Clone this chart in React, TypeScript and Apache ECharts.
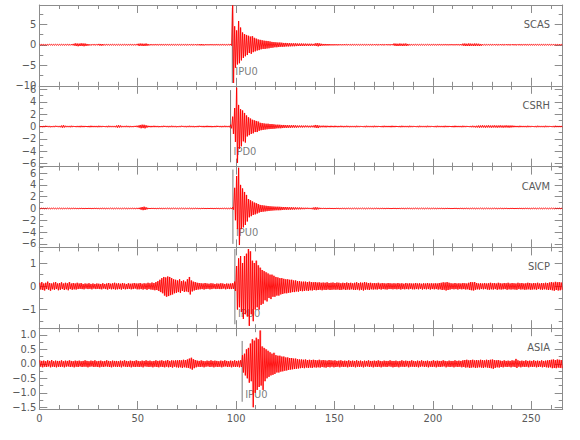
import React, { useEffect, useRef } from "react";
import * as echarts from "echarts";

// ---------------- data ----------------
const stations = ["SCAS", "CSRH", "CAVM", "SICP", "ASIA"];
const binSeconds = 1; // each envelope value covers one second
const xMajorTicks = [0, 50, 100, 150, 200, 250];
const xMinorTicks = [10, 20, 30, 40, 60, 70, 80, 90, 110, 120, 130, 140, 160, 170, 180, 190, 210, 220, 230, 240, 260];

const yMin = [-10, -6.5, -6.6, -1.8, -1.56];
const yMax = [9.7, 6.6, 7.1, 1.67, 1.23];
const yMajorTicks = [
  [-10, -5, 0, 5],
  [-6, -4, -2, 0, 2, 4, 6],
  [-6, -4, -2, 0, 2, 4, 6],
  [-1, 0, 1],
  [-1.5, -1, -0.5, 0, 0.5, 1],
];
const yMinorTicks = [
  [-7.5, -2.5, 2.5, 7.5],
  [-5, -3, -1, 1, 3, 5],
  [-5, -3, -1, 1, 3, 5, 7],
  [-1.5, -0.5, 0.5, 1.5],
  [-1.25, -0.75, -0.25, 0.25, 0.75],
];
const yLabelDecimals = [0, 0, 0, 0, 1];

const pickTimes = [98.1, 97.2, 98.4, 99.4, 103.1];
const pickTop = [9.0, 5.9, 6.6, 1.6, 0.79];
const pickBottom = [-9.3, -5.8, -6.0, -1.63, -1.31];
const pickNames = ["IPU0", "IPD0", "IPU0", "IPU0", "IPU0"];
const pickLabelY = [-6.6, -4.0, -4.1, -1.16, -1.07];

// envelope (max / min per 1 s bin)
const scasHi = [
  0.1,0.12,0.1,0.08,0.1,0.12,0.1,0.1,0.12,0.1,
  0.1,0.12,0.1,0.1,0.12,0.1,0.12,0.22,0.35,0.3,
  0.28,0.36,0.32,0.3,0.2,0.15,0.1,0.12,0.1,0.12,
  0.22,0.2,0.18,0.1,0.12,0.1,0.1,0.12,0.1,0.1,
  0.12,0.1,0.1,0.12,0.1,0.1,0.12,0.1,0.1,0.12,
  0.25,0.3,0.28,0.25,0.3,0.2,0.12,0.1,0.1,0.12,
  0.1,0.12,0.1,0.1,0.12,0.1,0.1,0.12,0.1,0.1,
  0.12,0.1,0.1,0.12,0.1,0.1,0.12,0.1,0.1,0.12,
  0.1,0.15,0.18,0.15,0.12,0.1,0.1,0.12,0.1,0.1,
  0.12,0.1,0.1,0.12,0.1,0.1,0.12,0.2,9.6,4.5,
  3.5,5.8,4.2,3.0,2.6,2.4,2.2,2.0,2.1,1.7,
  1.5,1.3,1.2,1.1,1.0,0.95,0.9,0.8,0.7,0.65,
  0.6,0.55,0.55,0.5,0.45,0.45,0.4,0.4,0.35,0.35,
  0.35,0.3,0.3,0.3,0.28,0.28,0.25,0.25,0.25,0.22,
  0.35,0.4,0.35,0.25,0.2,0.2,0.18,0.18,0.15,0.15,
  0.15,0.14,0.14,0.12,0.12,0.14,0.12,0.12,0.1,0.12,
  0.1,0.12,0.1,0.1,0.12,0.1,0.1,0.12,0.1,0.1,
  0.12,0.1,0.1,0.12,0.1,0.1,0.12,0.1,0.1,0.15,
  0.3,0.28,0.25,0.3,0.25,0.28,0.3,0.2,0.12,0.1,
  0.1,0.12,0.1,0.1,0.12,0.1,0.1,0.12,0.1,0.1,
  0.12,0.1,0.1,0.12,0.1,0.1,0.12,0.1,0.1,0.12,
  0.1,0.1,0.12,0.1,0.15,0.28,0.3,0.25,0.32,0.28,
  0.25,0.3,0.28,0.25,0.2,0.12,0.1,0.1,0.12,0.1,
  0.1,0.12,0.1,0.1,0.12,0.1,0.1,0.12,0.1,0.1,
  0.12,0.1,0.1,0.12,0.1,0.1,0.12,0.1,0.1,0.12,
  0.1,0.1,0.12,0.1,0.1,0.12,0.1,0.1,0.12,0.1,
  0.1,0.12,0.1,0.1,0.12,0.1,
];
const scasLo = [
  -0.1,-0.1,-0.12,-0.1,-0.1,-0.08,-0.12,-0.1,-0.1,-0.12,
  -0.1,-0.1,-0.12,-0.1,-0.1,-0.12,-0.1,-0.2,-0.3,-0.35,
  -0.3,-0.3,-0.35,-0.28,-0.22,-0.15,-0.12,-0.1,-0.12,-0.1,
  -0.2,-0.22,-0.15,-0.12,-0.1,-0.12,-0.1,-0.1,-0.12,-0.1,
  -0.1,-0.12,-0.1,-0.1,-0.12,-0.1,-0.1,-0.12,-0.1,-0.1,
  -0.28,-0.25,-0.3,-0.28,-0.25,-0.18,-0.1,-0.12,-0.1,-0.1,
  -0.12,-0.1,-0.1,-0.12,-0.1,-0.1,-0.12,-0.1,-0.1,-0.12,
  -0.1,-0.1,-0.12,-0.1,-0.1,-0.12,-0.1,-0.1,-0.12,-0.1,
  -0.12,-0.15,-0.15,-0.18,-0.1,-0.12,-0.1,-0.1,-0.12,-0.1,
  -0.1,-0.12,-0.1,-0.1,-0.12,-0.1,-0.1,-0.2,-9.3,-5.6,
  -4.8,-4.5,-3.8,-3.2,-2.8,-2.5,-2.0,-2.2,-1.8,-1.6,
  -1.4,-1.3,-1.1,-1.0,-1.0,-0.9,-0.85,-0.75,-0.7,-0.6,
  -0.6,-0.55,-0.5,-0.5,-0.45,-0.4,-0.4,-0.38,-0.35,-0.35,
  -0.32,-0.3,-0.3,-0.28,-0.28,-0.25,-0.25,-0.25,-0.22,-0.22,
  -0.3,-0.38,-0.3,-0.22,-0.2,-0.18,-0.18,-0.15,-0.15,-0.15,
  -0.14,-0.15,-0.12,-0.14,-0.12,-0.12,-0.1,-0.12,-0.12,-0.1,
  -0.12,-0.1,-0.1,-0.12,-0.1,-0.1,-0.12,-0.1,-0.1,-0.12,
  -0.1,-0.1,-0.12,-0.1,-0.1,-0.12,-0.1,-0.1,-0.12,-0.12,
  -0.25,-0.3,-0.28,-0.25,-0.3,-0.25,-0.28,-0.18,-0.1,-0.12,
  -0.1,-0.1,-0.12,-0.1,-0.1,-0.12,-0.1,-0.1,-0.12,-0.1,
  -0.1,-0.12,-0.1,-0.1,-0.12,-0.1,-0.1,-0.12,-0.1,-0.1,
  -0.12,-0.1,-0.1,-0.12,-0.15,-0.25,-0.3,-0.28,-0.3,-0.25,
  -0.3,-0.28,-0.25,-0.3,-0.22,-0.12,-0.1,-0.12,-0.1,-0.1,
  -0.12,-0.1,-0.1,-0.12,-0.1,-0.1,-0.12,-0.1,-0.1,-0.12,
  -0.1,-0.1,-0.12,-0.1,-0.1,-0.12,-0.1,-0.1,-0.12,-0.1,
  -0.1,-0.12,-0.1,-0.1,-0.12,-0.1,-0.1,-0.12,-0.1,-0.1,
  -0.12,-0.1,-0.1,-0.12,-0.1,-0.1,
];
const csrhHi = [
  0.1,0.08,0.1,0.12,0.1,0.1,0.08,0.1,0.12,0.1,
  0.1,0.15,0.2,0.12,0.1,0.1,0.12,0.1,0.08,0.1,
  0.1,0.12,0.1,0.1,0.08,0.1,0.12,0.1,0.1,0.1,
  0.12,0.1,0.1,0.08,0.1,0.12,0.1,0.1,0.1,0.15,
  0.2,0.15,0.1,0.1,0.12,0.1,0.1,0.08,0.1,0.12,
  0.15,0.25,0.3,0.28,0.2,0.12,0.1,0.1,0.12,0.1,
  0.1,0.08,0.1,0.12,0.1,0.1,0.1,0.12,0.1,0.1,
  0.08,0.1,0.12,0.1,0.1,0.1,0.12,0.1,0.1,0.08,
  0.1,0.12,0.1,0.1,0.1,0.12,0.1,0.1,0.08,0.1,
  0.12,0.1,0.1,0.1,0.12,0.1,0.1,0.3,1.6,3.0,
  6.3,3.5,2.8,2.6,2.2,1.8,1.5,1.3,1.1,1.0,
  0.9,0.8,0.6,0.55,0.5,0.45,0.45,0.4,0.4,0.35,
  0.3,0.3,0.28,0.25,0.25,0.22,0.22,0.2,0.2,0.2,
  0.18,0.15,0.15,0.15,0.14,0.15,0.14,0.12,0.14,0.15,
  0.25,0.22,0.15,0.12,0.14,0.12,0.12,0.1,0.12,0.1,
  0.12,0.1,0.1,0.12,0.1,0.1,0.12,0.1,0.1,0.1,
  0.1,0.12,0.1,0.1,0.08,0.1,0.12,0.1,0.1,0.1,
  0.12,0.1,0.1,0.08,0.1,0.12,0.1,0.1,0.1,0.12,
  0.1,0.1,0.08,0.1,0.12,0.1,0.1,0.1,0.12,0.1,
  0.1,0.08,0.1,0.12,0.1,0.1,0.1,0.12,0.1,0.1,
  0.08,0.1,0.12,0.1,0.1,0.1,0.12,0.1,0.1,0.08,
  0.1,0.12,0.1,0.1,0.1,0.12,0.1,0.1,0.08,0.1,
  0.12,0.1,0.12,0.15,0.15,0.18,0.15,0.15,0.18,0.15,
  0.15,0.18,0.15,0.15,0.18,0.15,0.15,0.18,0.15,0.15,
  0.15,0.12,0.1,0.1,0.12,0.1,0.1,0.1,0.12,0.1,
  0.1,0.08,0.1,0.12,0.1,0.1,0.1,0.12,0.1,0.1,
  0.08,0.1,0.12,0.1,0.1,0.1,
];
const csrhLo = [
  -0.1,-0.12,-0.1,-0.08,-0.1,-0.12,-0.1,-0.1,-0.08,-0.1,
  -0.12,-0.18,-0.15,-0.1,-0.1,-0.12,-0.1,-0.08,-0.1,-0.1,
  -0.12,-0.1,-0.1,-0.08,-0.1,-0.12,-0.1,-0.1,-0.1,-0.12,
  -0.1,-0.1,-0.08,-0.1,-0.12,-0.1,-0.1,-0.1,-0.12,-0.18,
  -0.15,-0.12,-0.1,-0.1,-0.1,-0.12,-0.1,-0.1,-0.08,-0.1,
  -0.18,-0.28,-0.25,-0.3,-0.18,-0.1,-0.12,-0.1,-0.1,-0.1,
  -0.12,-0.1,-0.1,-0.08,-0.1,-0.12,-0.1,-0.1,-0.1,-0.12,
  -0.1,-0.1,-0.08,-0.1,-0.12,-0.1,-0.1,-0.1,-0.12,-0.1,
  -0.1,-0.08,-0.1,-0.12,-0.1,-0.1,-0.1,-0.12,-0.1,-0.1,
  -0.08,-0.1,-0.12,-0.1,-0.1,-0.1,-0.12,-0.3,-1.2,-2.5,
  -5.9,-3.6,-3.2,-2.4,-2.6,-1.6,-1.4,-1.2,-1.1,-0.9,
  -0.9,-0.7,-0.6,-0.55,-0.5,-0.45,-0.42,-0.4,-0.38,-0.35,
  -0.3,-0.28,-0.28,-0.25,-0.22,-0.22,-0.2,-0.2,-0.18,-0.18,
  -0.18,-0.15,-0.14,-0.15,-0.14,-0.12,-0.14,-0.14,-0.12,-0.15,
  -0.22,-0.25,-0.14,-0.12,-0.12,-0.14,-0.1,-0.12,-0.1,-0.12,
  -0.1,-0.12,-0.1,-0.1,-0.12,-0.1,-0.1,-0.12,-0.1,-0.1,
  -0.12,-0.1,-0.1,-0.08,-0.1,-0.12,-0.1,-0.1,-0.1,-0.12,
  -0.1,-0.1,-0.08,-0.1,-0.12,-0.1,-0.1,-0.1,-0.12,-0.1,
  -0.1,-0.08,-0.1,-0.12,-0.1,-0.1,-0.1,-0.12,-0.1,-0.1,
  -0.08,-0.1,-0.12,-0.1,-0.1,-0.1,-0.12,-0.1,-0.1,-0.08,
  -0.1,-0.12,-0.1,-0.1,-0.1,-0.12,-0.1,-0.1,-0.08,-0.1,
  -0.12,-0.1,-0.1,-0.1,-0.12,-0.1,-0.1,-0.08,-0.1,-0.12,
  -0.12,-0.15,-0.15,-0.18,-0.15,-0.15,-0.18,-0.15,-0.15,-0.18,
  -0.15,-0.15,-0.18,-0.15,-0.15,-0.18,-0.15,-0.15,-0.18,-0.15,
  -0.12,-0.1,-0.1,-0.12,-0.1,-0.1,-0.1,-0.12,-0.1,-0.1,
  -0.08,-0.1,-0.12,-0.1,-0.1,-0.1,-0.12,-0.1,-0.1,-0.08,
  -0.1,-0.12,-0.1,-0.1,-0.1,-0.12,
];
const cavmHi = [
  0.06,0.08,0.06,0.05,0.08,0.06,0.06,0.08,0.05,0.06,
  0.08,0.06,0.06,0.05,0.08,0.06,0.06,0.08,0.06,0.05,
  0.06,0.08,0.06,0.06,0.05,0.08,0.06,0.06,0.08,0.06,
  0.05,0.06,0.08,0.06,0.06,0.05,0.08,0.06,0.06,0.08,
  0.06,0.05,0.06,0.08,0.06,0.06,0.05,0.08,0.06,0.06,
  0.1,0.15,0.25,0.3,0.2,0.1,0.06,0.08,0.06,0.05,
  0.06,0.08,0.06,0.06,0.05,0.08,0.06,0.06,0.08,0.06,
  0.05,0.06,0.08,0.06,0.06,0.05,0.08,0.06,0.06,0.08,
  0.06,0.05,0.06,0.08,0.06,0.06,0.05,0.08,0.06,0.06,
  0.08,0.06,0.05,0.06,0.08,0.06,0.06,0.1,0.2,3.5,
  5.5,6.9,4.0,3.4,2.8,2.3,1.6,1.4,1.2,1.0,
  0.9,0.75,0.6,0.55,0.5,0.45,0.42,0.38,0.35,0.32,
  0.3,0.3,0.28,0.26,0.25,0.24,0.22,0.2,0.2,0.18,
  0.18,0.15,0.15,0.14,0.12,0.12,0.12,0.1,0.1,0.15,
  0.2,0.18,0.12,0.1,0.08,0.08,0.06,0.08,0.06,0.06,
  0.06,0.08,0.06,0.05,0.08,0.06,0.06,0.08,0.05,0.06,
  0.08,0.06,0.06,0.05,0.08,0.06,0.06,0.08,0.06,0.05,
  0.06,0.08,0.06,0.05,0.08,0.06,0.06,0.08,0.05,0.06,
  0.08,0.06,0.06,0.05,0.08,0.06,0.06,0.08,0.06,0.05,
  0.06,0.08,0.06,0.05,0.08,0.06,0.06,0.08,0.05,0.06,
  0.08,0.06,0.06,0.05,0.08,0.06,0.06,0.08,0.06,0.05,
  0.06,0.08,0.06,0.05,0.08,0.06,0.06,0.08,0.05,0.06,
  0.08,0.06,0.06,0.05,0.08,0.06,0.06,0.08,0.06,0.05,
  0.06,0.08,0.06,0.05,0.08,0.06,0.06,0.08,0.05,0.06,
  0.08,0.06,0.06,0.05,0.08,0.06,0.06,0.08,0.06,0.05,
  0.06,0.08,0.06,0.05,0.08,0.06,0.06,0.08,0.05,0.06,
  0.08,0.06,0.06,0.05,0.08,0.06,
];
const cavmLo = [
  -0.06,-0.05,-0.08,-0.06,-0.06,-0.08,-0.05,-0.06,-0.08,-0.06,
  -0.06,-0.08,-0.05,-0.06,-0.06,-0.08,-0.06,-0.05,-0.06,-0.08,
  -0.06,-0.06,-0.08,-0.05,-0.06,-0.06,-0.08,-0.06,-0.05,-0.06,
  -0.08,-0.06,-0.06,-0.08,-0.05,-0.06,-0.06,-0.08,-0.06,-0.05,
  -0.06,-0.08,-0.06,-0.06,-0.08,-0.05,-0.06,-0.06,-0.08,-0.06,
  -0.1,-0.2,-0.28,-0.25,-0.15,-0.08,-0.06,-0.05,-0.06,-0.08,
  -0.06,-0.06,-0.08,-0.05,-0.06,-0.06,-0.08,-0.06,-0.05,-0.06,
  -0.08,-0.06,-0.06,-0.08,-0.05,-0.06,-0.06,-0.08,-0.06,-0.05,
  -0.06,-0.08,-0.06,-0.06,-0.08,-0.05,-0.06,-0.06,-0.08,-0.06,
  -0.06,-0.08,-0.05,-0.06,-0.06,-0.08,-0.06,-0.1,-0.2,-2.0,
  -3.5,-6.2,-3.5,-3.2,-2.8,-2.2,-1.5,-1.3,-1.1,-1.0,
  -0.85,-0.7,-0.6,-0.55,-0.5,-0.45,-0.42,-0.38,-0.35,-0.32,
  -0.3,-0.3,-0.28,-0.25,-0.22,-0.22,-0.2,-0.2,-0.18,-0.18,
  -0.15,-0.15,-0.14,-0.12,-0.12,-0.1,-0.1,-0.1,-0.12,-0.18,
  -0.2,-0.15,-0.1,-0.08,-0.06,-0.08,-0.06,-0.05,-0.06,-0.08,
  -0.06,-0.05,-0.08,-0.06,-0.06,-0.08,-0.05,-0.06,-0.08,-0.06,
  -0.06,-0.08,-0.05,-0.06,-0.06,-0.08,-0.06,-0.05,-0.06,-0.08,
  -0.06,-0.05,-0.08,-0.06,-0.06,-0.08,-0.05,-0.06,-0.08,-0.06,
  -0.06,-0.08,-0.05,-0.06,-0.06,-0.08,-0.06,-0.05,-0.06,-0.08,
  -0.06,-0.05,-0.08,-0.06,-0.06,-0.08,-0.05,-0.06,-0.08,-0.06,
  -0.06,-0.08,-0.05,-0.06,-0.06,-0.08,-0.06,-0.05,-0.06,-0.08,
  -0.06,-0.05,-0.08,-0.06,-0.06,-0.08,-0.05,-0.06,-0.08,-0.06,
  -0.06,-0.08,-0.05,-0.06,-0.06,-0.08,-0.06,-0.05,-0.06,-0.08,
  -0.06,-0.05,-0.08,-0.06,-0.06,-0.08,-0.05,-0.06,-0.08,-0.06,
  -0.06,-0.08,-0.05,-0.06,-0.06,-0.08,-0.06,-0.05,-0.06,-0.08,
  -0.06,-0.05,-0.08,-0.06,-0.06,-0.08,-0.05,-0.06,-0.08,-0.06,
  -0.06,-0.08,-0.05,-0.06,-0.06,-0.08,
];
const sicpHi = [
  0.15,0.18,0.12,0.15,0.2,0.14,0.12,0.16,0.18,0.12,
  0.14,0.17,0.12,0.15,0.13,0.18,0.12,0.14,0.12,0.15,
  0.12,0.14,0.1,0.12,0.11,0.13,0.1,0.12,0.1,0.12,
  0.11,0.1,0.13,0.1,0.12,0.14,0.11,0.13,0.15,0.12,
  0.13,0.11,0.14,0.12,0.1,0.13,0.11,0.12,0.14,0.12,
  0.12,0.14,0.11,0.13,0.12,0.15,0.13,0.16,0.14,0.18,
  0.22,0.28,0.35,0.4,0.38,0.42,0.4,0.35,0.3,0.28,
  0.25,0.3,0.22,0.25,0.2,0.3,0.4,0.25,0.2,0.18,
  0.15,0.14,0.13,0.12,0.14,0.12,0.11,0.13,0.12,0.1,
  0.12,0.11,0.13,0.12,0.1,0.12,0.11,0.12,0.13,0.2,
  0.87,1.2,1.3,1.0,1.3,1.4,1.6,1.5,1.1,1.0,
  1.1,0.9,0.8,0.7,0.65,0.6,0.55,0.5,0.5,0.45,
  0.4,0.38,0.35,0.35,0.32,0.3,0.3,0.28,0.28,0.25,
  0.25,0.22,0.22,0.2,0.2,0.2,0.18,0.2,0.18,0.17,
  0.18,0.16,0.17,0.15,0.16,0.15,0.17,0.14,0.15,0.16,
  0.14,0.16,0.15,0.13,0.15,0.14,0.16,0.14,0.15,0.13,
  0.15,0.17,0.14,0.16,0.15,0.18,0.16,0.14,0.15,0.13,
  0.14,0.13,0.15,0.12,0.14,0.13,0.12,0.14,0.13,0.12,
  0.13,0.12,0.14,0.12,0.13,0.11,0.14,0.12,0.13,0.12,
  0.12,0.14,0.12,0.13,0.11,0.13,0.12,0.14,0.12,0.13,
  0.12,0.13,0.12,0.14,0.15,0.17,0.16,0.18,0.15,0.13,
  0.12,0.14,0.12,0.13,0.12,0.14,0.13,0.12,0.15,0.18,
  0.17,0.18,0.14,0.12,0.13,0.12,0.14,0.12,0.13,0.15,
  0.13,0.14,0.12,0.15,0.13,0.12,0.14,0.13,0.15,0.12,
  0.14,0.13,0.12,0.15,0.13,0.14,0.12,0.13,0.15,0.14,
  0.12,0.14,0.13,0.15,0.12,0.14,0.13,0.15,0.14,0.16,
  0.18,0.16,0.19,0.17,0.18,0.16,
];
const sicpLo = [
  -0.14,-0.16,-0.18,-0.12,-0.15,-0.19,-0.13,-0.15,-0.12,-0.17,
  -0.15,-0.12,-0.16,-0.13,-0.17,-0.12,-0.15,-0.13,-0.14,-0.12,
  -0.11,-0.12,-0.13,-0.1,-0.12,-0.11,-0.13,-0.1,-0.12,-0.11,
  -0.12,-0.13,-0.1,-0.12,-0.14,-0.11,-0.13,-0.12,-0.14,-0.13,
  -0.12,-0.14,-0.11,-0.13,-0.12,-0.11,-0.13,-0.12,-0.1,-0.13,
  -0.13,-0.12,-0.14,-0.12,-0.15,-0.12,-0.14,-0.15,-0.17,-0.16,
  -0.2,-0.25,-0.3,-0.4,-0.45,-0.42,-0.38,-0.35,-0.3,-0.28,
  -0.25,-0.28,-0.2,-0.24,-0.22,-0.25,-0.35,-0.22,-0.18,-0.16,
  -0.14,-0.13,-0.12,-0.14,-0.12,-0.11,-0.13,-0.12,-0.1,-0.12,
  -0.11,-0.12,-0.12,-0.1,-0.13,-0.11,-0.12,-0.12,-0.11,-0.2,
  -1.0,-0.9,-1.1,-1.4,-1.2,-1.3,-1.7,-1.2,-1.5,-1.0,
  -0.9,-1.0,-0.8,-0.75,-0.6,-0.65,-0.5,-0.55,-0.45,-0.45,
  -0.4,-0.4,-0.35,-0.33,-0.3,-0.3,-0.28,-0.27,-0.25,-0.25,
  -0.22,-0.23,-0.2,-0.21,-0.2,-0.18,-0.2,-0.17,-0.18,-0.16,
  -0.17,-0.16,-0.15,-0.17,-0.15,-0.16,-0.14,-0.16,-0.15,-0.14,
  -0.15,-0.14,-0.16,-0.15,-0.13,-0.16,-0.14,-0.15,-0.13,-0.15,
  -0.16,-0.14,-0.17,-0.15,-0.18,-0.15,-0.14,-0.16,-0.13,-0.14,
  -0.13,-0.14,-0.12,-0.14,-0.12,-0.13,-0.14,-0.12,-0.12,-0.13,
  -0.12,-0.13,-0.12,-0.14,-0.12,-0.13,-0.12,-0.13,-0.11,-0.13,
  -0.13,-0.12,-0.13,-0.11,-0.14,-0.12,-0.13,-0.12,-0.14,-0.12,
  -0.13,-0.12,-0.14,-0.13,-0.16,-0.15,-0.18,-0.16,-0.14,-0.12,
  -0.13,-0.12,-0.14,-0.12,-0.13,-0.12,-0.14,-0.13,-0.16,-0.17,
  -0.18,-0.15,-0.13,-0.14,-0.12,-0.13,-0.12,-0.14,-0.15,-0.13,
  -0.14,-0.12,-0.15,-0.13,-0.14,-0.13,-0.12,-0.15,-0.13,-0.14,
  -0.13,-0.14,-0.15,-0.12,-0.14,-0.13,-0.15,-0.14,-0.13,-0.15,
  -0.14,-0.13,-0.15,-0.12,-0.14,-0.15,-0.13,-0.14,-0.16,-0.15,
  -0.17,-0.19,-0.16,-0.18,-0.17,-0.15,
];
const asiaHi = [
  0.12,0.1,0.11,0.09,0.12,0.1,0.13,0.09,0.11,0.1,
  0.1,0.12,0.09,0.11,0.1,0.12,0.1,0.09,0.11,0.1,
  0.11,0.09,0.1,0.12,0.1,0.09,0.11,0.1,0.12,0.09,
  0.1,0.11,0.09,0.1,0.12,0.1,0.09,0.11,0.1,0.1,
  0.09,0.11,0.1,0.12,0.1,0.09,0.11,0.1,0.1,0.12,
  0.1,0.09,0.11,0.1,0.12,0.1,0.11,0.09,0.1,0.12,
  0.1,0.11,0.12,0.1,0.11,0.13,0.1,0.12,0.11,0.12,
  0.12,0.13,0.12,0.14,0.13,0.15,0.18,0.21,0.16,0.13,
  0.11,0.1,0.12,0.1,0.09,0.11,0.1,0.12,0.1,0.11,
  0.1,0.09,0.11,0.1,0.12,0.1,0.09,0.11,0.1,0.12,
  0.1,0.11,0.12,0.3,0.35,0.5,0.55,0.7,0.85,0.8,
  0.9,0.85,1.15,0.6,0.55,0.5,0.45,0.4,0.35,0.38,
  0.3,0.28,0.28,0.25,0.25,0.22,0.22,0.2,0.2,0.18,
  0.18,0.16,0.15,0.15,0.14,0.15,0.13,0.14,0.13,0.14,
  0.13,0.12,0.14,0.12,0.13,0.12,0.11,0.13,0.12,0.11,
  0.12,0.1,0.11,0.12,0.1,0.11,0.1,0.12,0.1,0.11,
  0.1,0.12,0.1,0.11,0.09,0.11,0.1,0.12,0.1,0.1,
  0.11,0.1,0.12,0.1,0.09,0.11,0.1,0.1,0.12,0.1,
  0.1,0.11,0.09,0.1,0.12,0.1,0.11,0.1,0.1,0.12,
  0.1,0.09,0.11,0.1,0.12,0.1,0.1,0.11,0.09,0.1,
  0.12,0.1,0.11,0.1,0.1,0.12,0.1,0.09,0.11,0.1,
  0.1,0.12,0.1,0.11,0.1,0.12,0.13,0.14,0.12,0.13,
  0.14,0.12,0.13,0.12,0.14,0.13,0.12,0.14,0.13,0.14,
  0.15,0.13,0.12,0.13,0.11,0.1,0.12,0.1,0.11,0.1,
  0.12,0.11,0.17,0.12,0.1,0.11,0.1,0.12,0.1,0.11,
  0.1,0.12,0.1,0.11,0.1,0.12,0.1,0.11,0.12,0.13,
  0.14,0.15,0.13,0.15,0.14,0.13,
];
const asiaLo = [
  -0.1,-0.12,-0.1,-0.11,-0.09,-0.12,-0.1,-0.11,-0.12,-0.1,
  -0.11,-0.1,-0.12,-0.1,-0.09,-0.11,-0.1,-0.12,-0.1,-0.11,
  -0.09,-0.11,-0.1,-0.1,-0.12,-0.1,-0.09,-0.11,-0.1,-0.11,
  -0.12,-0.1,-0.11,-0.09,-0.1,-0.11,-0.12,-0.1,-0.1,-0.11,
  -0.1,-0.12,-0.09,-0.1,-0.11,-0.1,-0.12,-0.1,-0.11,-0.1,
  -0.11,-0.1,-0.12,-0.09,-0.1,-0.11,-0.1,-0.12,-0.1,-0.11,
  -0.12,-0.1,-0.11,-0.12,-0.1,-0.12,-0.11,-0.13,-0.1,-0.12,
  -0.13,-0.12,-0.14,-0.12,-0.13,-0.14,-0.16,-0.2,-0.15,-0.12,
  -0.1,-0.11,-0.1,-0.12,-0.1,-0.09,-0.11,-0.1,-0.12,-0.1,
  -0.11,-0.1,-0.12,-0.1,-0.09,-0.11,-0.1,-0.12,-0.1,-0.11,
  -0.1,-0.12,-0.11,-0.3,-0.4,-0.5,-0.65,-0.6,-1.5,-1.0,
  -0.9,-0.8,-0.75,-0.9,-0.6,-0.5,-0.45,-0.4,-0.38,-0.35,
  -0.3,-0.3,-0.27,-0.26,-0.24,-0.23,-0.21,-0.2,-0.19,-0.18,
  -0.17,-0.16,-0.15,-0.14,-0.15,-0.13,-0.14,-0.13,-0.14,-0.12,
  -0.13,-0.12,-0.13,-0.11,-0.12,-0.13,-0.11,-0.12,-0.1,-0.12,
  -0.11,-0.1,-0.12,-0.1,-0.11,-0.1,-0.12,-0.1,-0.11,-0.1,
  -0.12,-0.1,-0.11,-0.1,-0.12,-0.1,-0.09,-0.11,-0.1,-0.12,
  -0.1,-0.11,-0.1,-0.12,-0.1,-0.1,-0.11,-0.09,-0.1,-0.12,
  -0.11,-0.1,-0.12,-0.1,-0.1,-0.11,-0.09,-0.12,-0.1,-0.1,
  -0.11,-0.1,-0.12,-0.1,-0.09,-0.11,-0.1,-0.12,-0.1,-0.11,
  -0.1,-0.12,-0.1,-0.11,-0.1,-0.09,-0.12,-0.1,-0.11,-0.1,
  -0.12,-0.1,-0.11,-0.1,-0.12,-0.11,-0.13,-0.12,-0.14,-0.13,
  -0.12,-0.14,-0.13,-0.12,-0.13,-0.14,-0.12,-0.13,-0.14,-0.15,
  -0.17,-0.14,-0.12,-0.13,-0.11,-0.12,-0.1,-0.11,-0.1,-0.12,
  -0.1,-0.11,-0.14,-0.1,-0.12,-0.1,-0.11,-0.1,-0.12,-0.1,
  -0.11,-0.1,-0.12,-0.11,-0.1,-0.12,-0.11,-0.12,-0.13,-0.12,
  -0.15,-0.14,-0.15,-0.13,-0.14,-0.15,
];

const traceHi = [scasHi, csrhHi, cavmHi, sicpHi, asiaHi];
const traceLo = [scasLo, csrhLo, cavmLo, sicpLo, asiaLo];

// ---------------- layout & style ----------------
const X_MAX = 266;
const GRID_LEFT = 39.3;
const GRID_RIGHT = 17.3;
const GRID_TOP = 5;
const PANEL_H = 80.8;
const FONT = "'DejaVu Sans Condensed', 'Liberation Sans Narrow', sans-serif";
const FONT_SIZE = 11;
const AXIS_COLOR = "#8c8c8c";
const TEXT_COLOR = "#5a5a5a";
const TRACE_COLOR = "#ff0000";
const PICK_COLOR = "#7a7a7a";

function traceData(hi: number[], lo: number[]) {
  const pts: number[][] = [];
  const n = Math.min(hi.length, lo.length);
  for (let i = 0; i < n; i++) {
    pts.push([i * binSeconds + 0.25 * binSeconds, hi[i]]);
    pts.push([i * binSeconds + 0.75 * binSeconds, lo[i]]);
  }
  return pts;
}

function envelopeData(hi: number[], lo: number[]) {
  return hi.map((v, i) => [i * binSeconds + 0.5 * binSeconds, v, lo[i]]);
}

function renderEnvelope(params: any, api: any) {
  const t = api.value(0);
  const p0 = api.coord([t - 0.5 * binSeconds, api.value(1)]);
  const p1 = api.coord([t + 0.5 * binSeconds, api.value(2)]);
  return {
    type: "rect",
    shape: { x: p0[0], y: p0[1], width: p1[0] - p0[0], height: p1[1] - p0[1] },
    style: { fill: TRACE_COLOR, opacity: 0.2 },
  };
}

function fmtY(v: number, dec: number) {
  const s = Math.abs(v).toFixed(dec);
  return v < 0 ? "\u2212" + s : s;
}

function buildOption() {
  const grid: any[] = [];
  const xAxis: any[] = [];
  const yAxis: any[] = [];
  const series: any[] = [];
  const graphic: any[] = [];

  stations.forEach((name, g) => {
    const top = GRID_TOP + g * PANEL_H;
    grid.push({ left: GRID_LEFT, right: GRID_RIGHT, top, height: PANEL_H, containLabel: false, outerBoundsMode: "none" });

    const xBase = (position: string, ticks: number[], len: number, showLine: boolean, showLabel: boolean) => ({
      type: "value",
      gridIndex: g,
      position,
      min: 0,
      max: X_MAX,
      axisLine: { show: showLine, onZero: false, lineStyle: { color: AXIS_COLOR, width: 1 } },
      axisTick: { show: true, inside: true, length: len, customValues: ticks, lineStyle: { color: AXIS_COLOR, width: 1 } },
      axisLabel: {
        show: showLabel,
        customValues: ticks,
        showMinLabel: true,
        showMaxLabel: true,
        hideOverlap: false,
        color: TEXT_COLOR,
        fontFamily: FONT,
        fontSize: FONT_SIZE,
        margin: 4,
      },
      splitLine: { show: false },
    });
    const last = g === stations.length - 1;
    xAxis.push(xBase("bottom", xMajorTicks, 8, true, last));
    xAxis.push(xBase("bottom", xMinorTicks, 4, false, false));
    xAxis.push(xBase("top", xMajorTicks, 8, true, false));
    xAxis.push(xBase("top", xMinorTicks, 4, false, false));

    const yBase = (position: string, ticks: number[], len: number, showLine: boolean, showLabel: boolean) => ({
      type: "value",
      gridIndex: g,
      position,
      min: yMin[g],
      max: yMax[g],
      axisLine: { show: showLine, onZero: false, lineStyle: { color: AXIS_COLOR, width: 1 } },
      axisTick: { show: true, inside: true, length: len, customValues: ticks, lineStyle: { color: AXIS_COLOR, width: 1 } },
      axisLabel: {
        show: showLabel,
        customValues: ticks,
        showMinLabel: true,
        showMaxLabel: true,
        hideOverlap: false,
        color: TEXT_COLOR,
        fontFamily: FONT,
        fontSize: FONT_SIZE,
        margin: 3,
        formatter: (v: number) => fmtY(v, yLabelDecimals[g]),
      },
      splitLine: { show: false },
    });
    yAxis.push(yBase("left", yMajorTicks[g], 8, true, true));
    yAxis.push(yBase("left", yMinorTicks[g], 4, false, false));
    yAxis.push(yBase("right", yMajorTicks[g], 8, true, false));
    yAxis.push(yBase("right", yMinorTicks[g], 4, false, false));

    const xi = g * 4;
    const yi = g * 4;

    series.push({
      type: "scatter",
      xAxisIndex: xi,
      yAxisIndex: yi,
      z: 1,
      silent: true,
      symbolSize: 0,
      data: [[pickTimes[g], pickLabelY[g]]],
      label: {
        show: true,
        position: "right",
        distance: 3,
        formatter: pickNames[g],
        color: TEXT_COLOR,
        fontFamily: FONT,
        fontSize: FONT_SIZE,
      },
    });
    series.push({
      type: "line",
      xAxisIndex: xi,
      yAxisIndex: yi,
      z: 2,
      silent: true,
      symbol: "none",
      data: [[pickTimes[g], pickTop[g]], [pickTimes[g], pickBottom[g]]],
      lineStyle: { color: PICK_COLOR, width: 1 },
    });
    // faint envelope body of the dense trace
    series.push({
      type: "custom",
      xAxisIndex: xi,
      yAxisIndex: yi,
      z: 2,
      silent: true,
      clip: true,
      renderItem: renderEnvelope,
      encode: { x: 0, y: [1, 2] },
      data: envelopeData(traceHi[g], traceLo[g]),
    });
    series.push({
      type: "line",
      name,
      xAxisIndex: xi,
      yAxisIndex: yi,
      z: 3,
      silent: true,
      symbol: "none",
      showSymbol: false,
      clip: true,
      data: traceData(traceHi[g], traceLo[g]),
      lineStyle: { color: TRACE_COLOR, width: 0.9 },
    });

    graphic.push({
      type: "text",
      right: 30,
      top: top + 14,
      silent: true,
      style: { text: name, fill: TEXT_COLOR, font: `${FONT_SIZE}px ${FONT}` },
    });
  });

  return {
    animation: false,
    backgroundColor: "#ffffff",
    grid,
    xAxis,
    yAxis,
    series,
    graphic,
  };
}

export default function App() {
  const ref = useRef<HTMLDivElement | null>(null);
  useEffect(() => {
    if (!ref.current) return;
    const chart = echarts.init(ref.current, undefined, { renderer: "svg" });
    chart.setOption(buildOption() as any);
    return () => chart.dispose();
  }, []);
  return (
    <div
      ref={ref}
      style={{ position: "fixed", left: 0, top: 0, width: 580, height: 440, background: "#fff" }}
    />
  );
}
